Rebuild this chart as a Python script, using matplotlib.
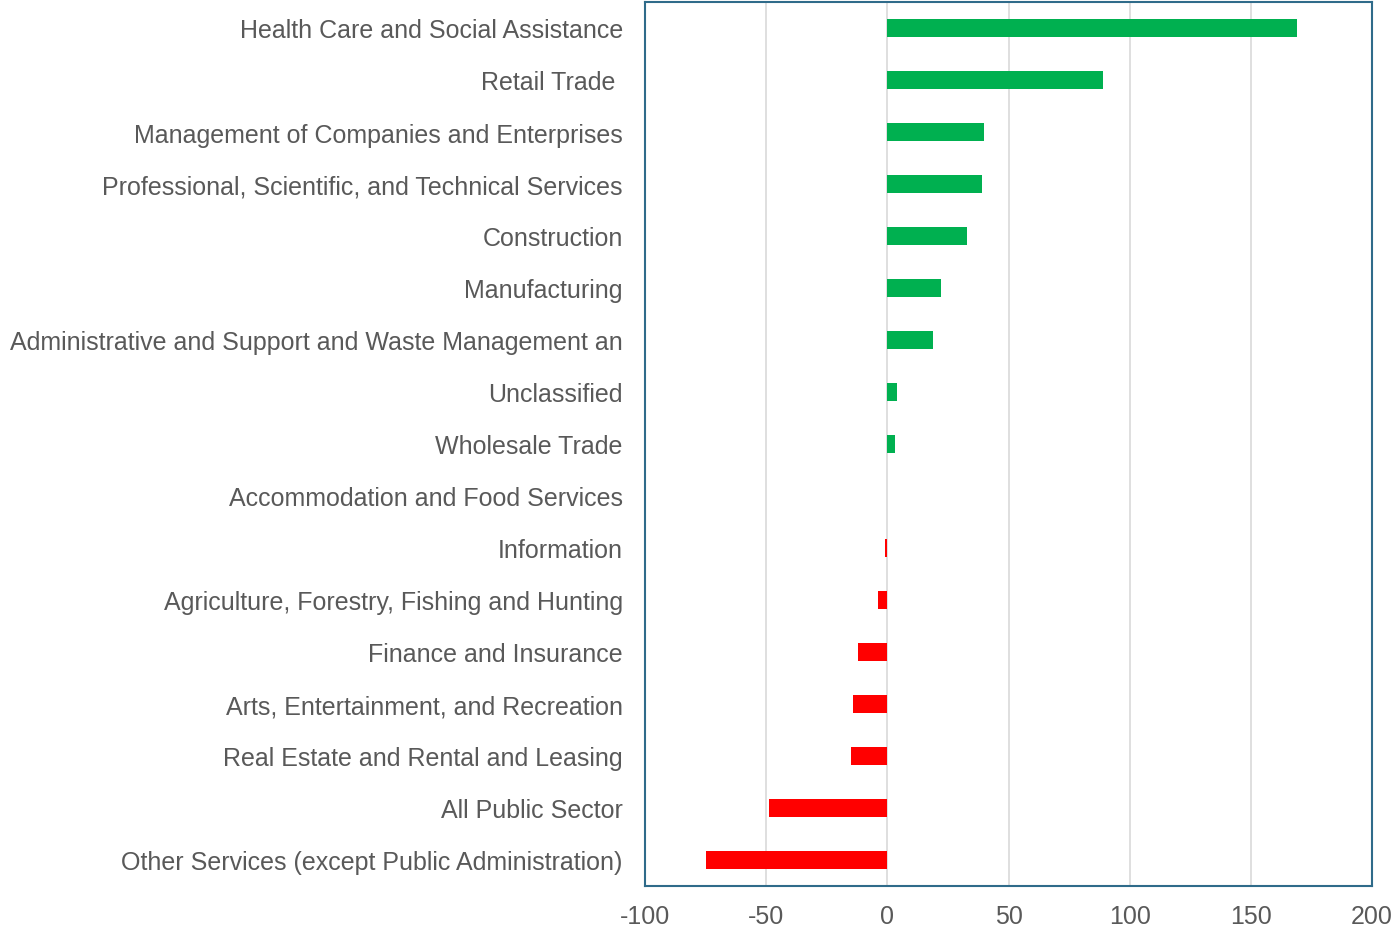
import matplotlib
matplotlib.use("Agg")
import matplotlib.pyplot as plt

categories = [
    "Health Care and Social Assistance",
    "Retail Trade ",
    "Management of Companies and Enterprises",
    "Professional, Scientific, and Technical Services",
    "Construction",
    "Manufacturing",
    "Administrative and Support and Waste Management an",
    "Unclassified",
    "Wholesale Trade",
    "Accommodation and Food Services",
    "Information",
    "Agriculture, Forestry, Fishing and Hunting",
    "Finance and Insurance",
    "Arts, Entertainment, and Recreation",
    "Real Estate and Rental and Leasing",
    "All Public Sector",
    "Other Services (except Public Administration)",
]
values = [169, 89, 40, 39, 33, 22, 19, 4, 3, 0, -1, -4, -12, -14, -15, -49, -75]
xticks = [-100, -50, 0, 50, 100, 150, 200]

plt.rcParams['font.family'] = ['Liberation Sans', 'DejaVu Sans']

fig = plt.figure(figsize=(13.94, 9.29), dpi=100)
ax = fig.add_axes([645/1394, 1 - 887/929, (1372-645)/1394, (887-3)/929])

colors = ['#00B050' if v >= 0 else '#FF0000' for v in values]
ypos = list(range(len(categories)))
ax.barh(ypos, values, height=0.35, color=colors, zorder=3)

ax.set_xlim(-100, 200)
ax.set_ylim(len(categories) - 0.5, -0.5)
ax.set_xticks(xticks)
ax.set_xticklabels([str(t) for t in xticks])
ax.set_yticks(ypos)
ax.set_yticklabels(categories)
for lbl in ax.get_yticklabels():
    lbl.set_verticalalignment('center_baseline')
ax.tick_params(axis='both', length=0, labelsize=18, labelcolor='#595959')
ax.tick_params(axis='x', pad=13)
ax.tick_params(axis='y', pad=16)
ax.grid(axis='x', color='#D9D9D9', linewidth=1.2, zorder=0)
ax.set_axisbelow(True)
for s in ax.spines.values():
    s.set_color('#2F6B8A')
    s.set_linewidth(1.5)

fig.savefig("out.png", dpi=100)
